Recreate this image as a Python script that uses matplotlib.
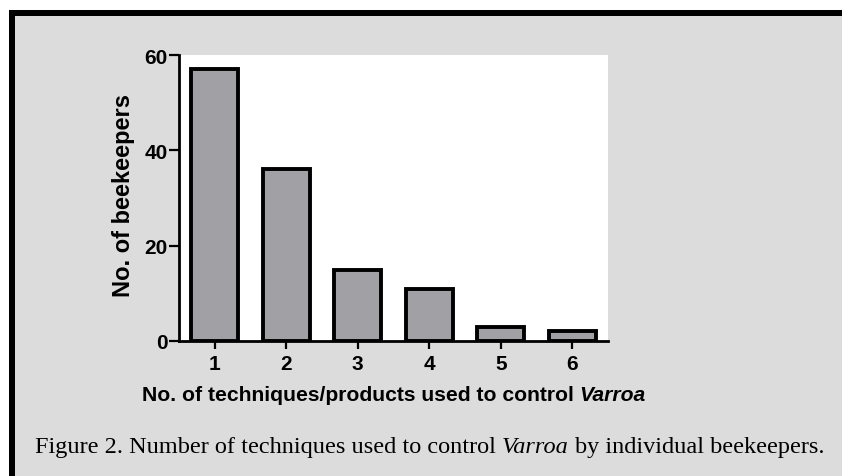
import matplotlib
matplotlib.use("Agg")
import matplotlib.pyplot as plt
from matplotlib.patches import Rectangle

# ---- data ----
techniques = [1, 2, 3, 4, 5, 6]
counts = [57, 36, 15, 11, 3, 2]
yticks = [0, 20, 40, 60]
xlabel_main = "No. of techniques/products used to control "
xlabel_ital = "Varroa"
ylabel = "No. of beekeepers"
caption_parts = [("Figure 2. Number of techniques used to control ", "normal"),
                 ("Varroa", "italic"),
                 (" by individual beekeepers.", "normal")]

W, H = 842, 477
fig = plt.figure(figsize=(W / 100, H / 100), dpi=100)
fig.patch.set_facecolor("white")


def fx(x):
    return x / W


def fy(y):
    return 1 - y / H


# background panel and black frame (left and top)
fig.patches.append(Rectangle((fx(15), 0), 1 - fx(15), fy(17), transform=fig.transFigure,
                             facecolor="#dcdcdc", edgecolor="none", zorder=-10))
fig.patches.append(Rectangle((fx(9), 0), fx(6), fy(11), transform=fig.transFigure,
                             facecolor="black", edgecolor="none", zorder=-10))
fig.patches.append(Rectangle((fx(9), fy(17)), 1 - fx(9), 6 / H, transform=fig.transFigure,
                             facecolor="black", edgecolor="none", zorder=-10))

sans = "Liberation Sans"
serif = "Liberation Serif"

ax = fig.add_axes([fx(179), fy(342), fx(608) - fx(179), fy(56) - fy(342)])
ax.set_zorder(1)
ax.set_facecolor("white")
ax.bar(techniques, counts, width=0.66, color="#a1a0a5", edgecolor="black", linewidth=2.8, zorder=3)
ax.set_xlim(0.5, 6.5)
ax.set_ylim(0, 60)
ax.set_yticks(yticks)
ax.set_xticks(techniques)
for s in ["top", "right"]:
    ax.spines[s].set_visible(False)
for s in ["left", "bottom"]:
    ax.spines[s].set_linewidth(2.0)
    ax.spines[s].set_zorder(4)
ax.tick_params(axis="y", length=7, width=1.6, pad=1)
ax.tick_params(axis="x", length=6, width=1.6, pad=3.5)
for lab in ax.get_xticklabels() + ax.get_yticklabels():
    lab.set_fontfamily(sans)
    lab.set_fontweight("bold")
    lab.set_fontsize(15)

# y label
fig.text(fx(123.5), fy(195.5), ylabel, rotation=90, ha="center", va="center",
         fontfamily=sans, fontweight="bold", fontsize=17)

fig.canvas.draw()
renderer = fig.canvas.get_renderer()


def width_of(txt, **kw):
    t = fig.text(0, 0, txt, **kw)
    w = t.get_window_extent(renderer).width
    t.remove()
    return w


def space_w(**kw):
    return width_of("x x", **kw) - width_of("xx", **kw)


def draw_pieces(pieces, x_left, y_base, common):
    x = x_left
    for txt, style, weight in pieces:
        lead = len(txt) - len(txt.lstrip(" "))
        trail = len(txt) - len(txt.rstrip(" "))
        core = txt.strip(" ")
        sw = space_w(fontstyle=style, fontweight=weight, **common)
        x += lead * sw
        t = fig.text(fx(x), fy(y_base), core, ha="left", va="baseline",
                     fontstyle=style, fontweight=weight, **common)
        x += t.get_window_extent(renderer).width + trail * sw
    return x


def total_width(pieces, common):
    x = 0
    for txt, style, weight in pieces:
        lead = len(txt) - len(txt.lstrip(" "))
        trail = len(txt) - len(txt.rstrip(" "))
        core = txt.strip(" ")
        sw = space_w(fontstyle=style, fontweight=weight, **common)
        x += (lead + trail) * sw + width_of(core, fontstyle=style, fontweight=weight, **common)
    return x


# x label (centered under axes)
xl_common = dict(fontfamily=sans, fontsize=15.2)
xl_pieces = [(xlabel_main, "normal", "bold"), (xlabel_ital, "italic", "bold")]
tw = total_width(xl_pieces, xl_common)
draw_pieces(xl_pieces, 393.5 - tw / 2, 401, xl_common)

# caption
cap_common = dict(fontfamily=serif, fontsize=17.5)
cap_pieces = [(t, s, "normal") for t, s in caption_parts]
draw_pieces(cap_pieces, 35, 453, cap_common)

fig.savefig("out.png", dpi=100, facecolor=fig.get_facecolor())
